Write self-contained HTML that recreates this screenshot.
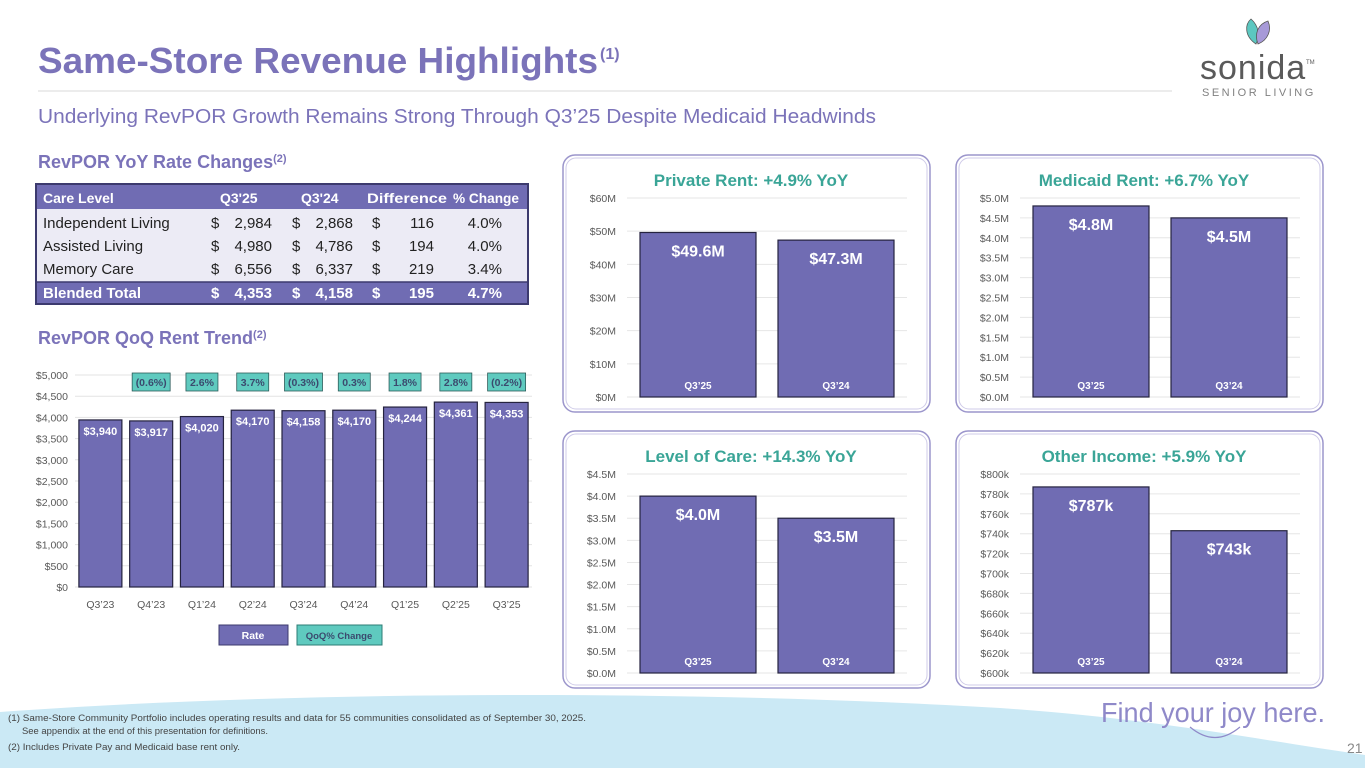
<!DOCTYPE html>
<html><head><meta charset="utf-8">
<style>
html,body{margin:0;padding:0;background:#fff;}
svg{display:block;font-family:"Liberation Sans",sans-serif;}
.ax{font-size:10.5px;fill:#595959;}
</style></head>
<body>
<svg id="page" width="1365" height="768" viewBox="0 0 1365 768" xmlns="http://www.w3.org/2000/svg">
  <path d="M0,712 C300,690 700,690 1000,708 C1150,718 1260,740 1365,755 L1365,768 L0,768 Z" fill="#cbe9f5"/>
  <text x="38" y="73" font-size="36" font-weight="bold" fill="#7b73b9"><tspan textLength="560" lengthAdjust="spacingAndGlyphs">Same-Store Revenue Highlights</tspan><tspan font-size="16" dy="-14" dx="2">(1)</tspan></text>
  <line x1="38" y1="91" x2="1172" y2="91" stroke="#d9d9d9" stroke-width="1"/>
  <text x="38" y="123" font-size="20" fill="#7b73b9" textLength="838" lengthAdjust="spacingAndGlyphs">Underlying RevPOR Growth Remains Strong Through Q3’25 Despite Medicaid Headwinds</text>

  <g>
    <path d="M1256,44 C1244,36 1245,24 1251,19 C1259,26 1260,36 1256,44 Z" fill="#5cc7c0" stroke="#555" stroke-width="0.8"/>
    <path d="M1258,44 C1254,34 1258,24 1268,21 C1272,30 1268,40 1258,44 Z" fill="#a79ad8" stroke="#555" stroke-width="0.8"/>
    <text x="1200" y="79" font-size="34" fill="#5a5a5a" letter-spacing="1">sonida</text>
    <text x="1306" y="64" font-size="6" fill="#5a5a5a">TM</text>
    <text x="1202" y="96" font-size="11" fill="#808080" letter-spacing="2.5">SENIOR LIVING</text>
  </g>

  <text x="38" y="168" font-size="18" font-weight="bold" fill="#7b73b9">RevPOR YoY Rate Changes<tspan font-size="11" dy="-6">(2)</tspan></text>

  <g>
    <rect x="36" y="184" width="492" height="120" fill="#ecebf5" stroke="#3c3a6e" stroke-width="2"/>
    <rect x="37" y="185" width="490" height="24" fill="#706cb3"/>
    <rect x="37" y="282" width="490" height="21" fill="#706cb3"/>
    <line x1="37" y1="282" x2="527" y2="282" stroke="#3c3a6e" stroke-width="1.5"/>
    <g font-size="14" font-weight="bold" fill="#fff">
      <text x="43" y="203">Care Level</text>
      <text x="220" y="203">Q3'25</text>
      <text x="301" y="203">Q3'24</text>
      <text x="367" y="203" textLength="80" lengthAdjust="spacingAndGlyphs">Difference</text>
      <text x="453" y="203" textLength="66" lengthAdjust="spacingAndGlyphs">% Change</text>
    </g>
    <g font-size="15" fill="#222">
      <text x="43" y="228">Independent Living</text>
      <text x="211" y="228">$</text><text x="272" y="228" text-anchor="end">2,984</text>
      <text x="292" y="228">$</text><text x="353" y="228" text-anchor="end">2,868</text>
      <text x="372" y="228">$</text><text x="434" y="228" text-anchor="end">116</text>
      <text x="502" y="228" text-anchor="end">4.0%</text>
      <text x="43" y="251">Assisted Living</text>
      <text x="211" y="251">$</text><text x="272" y="251" text-anchor="end">4,980</text>
      <text x="292" y="251">$</text><text x="353" y="251" text-anchor="end">4,786</text>
      <text x="372" y="251">$</text><text x="434" y="251" text-anchor="end">194</text>
      <text x="502" y="251" text-anchor="end">4.0%</text>
      <text x="43" y="274">Memory Care</text>
      <text x="211" y="274">$</text><text x="272" y="274" text-anchor="end">6,556</text>
      <text x="292" y="274">$</text><text x="353" y="274" text-anchor="end">6,337</text>
      <text x="372" y="274">$</text><text x="434" y="274" text-anchor="end">219</text>
      <text x="502" y="274" text-anchor="end">3.4%</text>
    </g>
    <g font-size="15" font-weight="bold" fill="#fff">
      <text x="43" y="298">Blended Total</text>
      <text x="211" y="298">$</text><text x="272" y="298" text-anchor="end">4,353</text>
      <text x="292" y="298">$</text><text x="353" y="298" text-anchor="end">4,158</text>
      <text x="372" y="298">$</text><text x="434" y="298" text-anchor="end">195</text>
      <text x="502" y="298" text-anchor="end">4.7%</text>
    </g>
  </g>

  <text x="38" y="344" font-size="18" font-weight="bold" fill="#7b73b9">RevPOR QoQ Rent Trend<tspan font-size="11" dy="-6">(2)</tspan></text>
  <g id="trend"></g>

  <g>
    <rect x="219" y="625" width="69" height="20" fill="#706cb3" stroke="#3c3a6e"/>
    <text x="253" y="639" font-size="10.5" font-weight="bold" fill="#fff" text-anchor="middle">Rate</text>
    <rect x="297" y="625" width="85" height="20" fill="#5fcabf" stroke="#2e7c75"/>
    <text x="339" y="639" font-size="9.5" font-weight="bold" fill="#3b4a6e" text-anchor="middle">QoQ% Change</text>
  </g>

  <g id="panels"></g>

  <g font-size="9" fill="#444">
    <text x="8" y="721" textLength="578" lengthAdjust="spacingAndGlyphs">(1) Same-Store Community Portfolio includes operating results and data for 55 communities consolidated as of September 30, 2025.</text>
    <text x="22" y="734" textLength="246" lengthAdjust="spacingAndGlyphs">See appendix at the end of this presentation for definitions.</text>
    <text x="8" y="750" textLength="232" lengthAdjust="spacingAndGlyphs">(2) Includes Private Pay and Medicaid base rent only.</text>
  </g>
  <text x="1101" y="722" font-size="28" fill="#8f89c9" textLength="224" lengthAdjust="spacingAndGlyphs">Find your joy here.</text>
  <path d="M1190,727 Q1215,748 1240,727" fill="none" stroke="#8f89c9" stroke-width="1.2"/>
  <text x="1347" y="753" font-size="14" fill="#888">21</text>
</svg>
<script>
const NS="http://www.w3.org/2000/svg";
const trendCats=["Q3'23","Q4'23","Q1'24","Q2'24","Q3'24","Q4'24","Q1'25","Q2'25","Q3'25"];
const trendVals=[3940,3917,4020,4170,4158,4170,4244,4361,4353];
const trendLabels=["$3,940","$3,917","$4,020","$4,170","$4,158","$4,170","$4,244","$4,361","$4,353"];
const qoqLabels=["","(0.6%)","2.6%","3.7%","(0.3%)","0.3%","1.8%","2.8%","(0.2%)"];
const trendTicks=[0,500,1000,1500,2000,2500,3000,3500,4000,4500,5000];
const trendTickLabels=["$0","$500","$1,000","$1,500","$2,000","$2,500","$3,000","$3,500","$4,000","$4,500","$5,000"];
const panelTitles=["Private Rent: +4.9% YoY","Medicaid Rent: +6.7% YoY","Level of Care: +14.3% YoY","Other Income: +5.9% YoY"];
const panelCats=["Q3’25","Q3’24"];
const privateVals=[49.6,47.3];
const medicaidVals=[4.8,4.5];
const careVals=[4.0,3.5];
const otherVals=[787,743];
const privateLabels=["$49.6M","$47.3M"];
const medicaidLabels=["$4.8M","$4.5M"];
const careLabels=["$4.0M","$3.5M"];
const otherLabels=["$787k","$743k"];
const privateTicks=[0,10,20,30,40,50,60];
const medicaidTicks=[0,0.5,1,1.5,2,2.5,3,3.5,4,4.5,5];
const careTicks=[0,0.5,1,1.5,2,2.5,3,3.5,4,4.5];
const otherTicks=[600,620,640,660,680,700,720,740,760,780,800];

function mk(tag,attrs,parent,text){const e=document.createElementNS(NS,tag);for(const k in attrs)e.setAttribute(k,attrs[k]);if(text!==undefined)e.textContent=text;parent.appendChild(e);return e;}

(function(){
  const g=document.getElementById('trend');
  const y0=587,y1=375,x0=75,x1=532;
  const yS=v=>y0-(v-trendTicks[0])/(trendTicks[trendTicks.length-1]-trendTicks[0])*(y0-y1);
  const step=(x1-x0)/trendCats.length;
  const xS=i=>x0+step*(i+0.5);
  trendTicks.forEach((t,i)=>{
    mk('line',{x1:x0,x2:x1,y1:yS(t),y2:yS(t),stroke:'#e3e3e3'},g);
    const tl=mk('text',{x:68,y:yS(t)+4,'text-anchor':'end',class:'ax'},g,trendTickLabels[i]);
    
    
  });
  trendVals.forEach((v,i)=>{
    const cx=xS(i),bw=43;
    const r=mk('rect',{x:cx-bw/2,y:yS(v),width:bw,height:y0-yS(v),fill:'#706cb3',stroke:'#25233f','stroke-width':1.2},g);
    
    
    const t=mk('text',{x:cx,y:yS(v)+15,'text-anchor':'middle','font-size':11,'font-weight':'bold',fill:'#fff'},g,trendLabels[i]);
    
    
    const c=mk('text',{x:cx,y:608,'text-anchor':'middle',class:'ax'},g,trendCats[i].replace("'","’"));
    
    
    if(qoqLabels[i]){
      const w=qoqLabels[i].length>4?38:32;
      const b=mk('rect',{x:cx-w/2,y:373,width:w,height:18,fill:'#5fcabf',stroke:'#2e5c5a','stroke-width':0.8},g);
      
      
      const bt=mk('text',{x:cx,y:386,'text-anchor':'middle','font-size':10.5,'font-weight':'bold',fill:'#3b4a6e'},g,qoqLabels[i]);
      
      
    }
  });
})();

function panel(px,py,title,vals,labels,ticks,fmt,name){
  const root=document.getElementById('panels');
  const g=mk('g',{},root);
  
  
  mk('rect',{x:px,y:py,width:367,height:257,rx:12,fill:'#fff',stroke:'#9c96cc','stroke-width':1.5},g);
  mk('rect',{x:px+3,y:py+3,width:361,height:251,rx:10,fill:'none',stroke:'#cfcbe8','stroke-width':1},g);
  const tt=mk('text',{x:px+188,y:py+31,'text-anchor':'middle','font-size':17,'font-weight':'bold',fill:'#3aa597'},g,title);
  
  
  const y1=py+43,y0=py+242,x0=px+64,x1=px+344;
  const lo=ticks[0],hi=ticks[ticks.length-1];
  const yS=v=>y0-(v-lo)/(hi-lo)*(y0-y1);
  ticks.forEach(t=>{
    mk('line',{x1:x0,x2:x1,y1:yS(t),y2:yS(t),stroke:'#e6e6e6'},g);
    const l=mk('text',{x:px+53,y:yS(t)+4,'text-anchor':'end',class:'ax'},g,fmt(t));
    
    
  });
  const centers=[px+135,px+273];
  vals.forEach((v,i)=>{
    const bw=116,cx=centers[i];
    const r=mk('rect',{x:cx-bw/2,y:yS(v),width:bw,height:y0-yS(v),fill:'#706cb3',stroke:'#25233f','stroke-width':1.2},g);
    
    
    const vl=mk('text',{x:cx,y:yS(v)+24,'text-anchor':'middle','font-size':16,'font-weight':'bold',fill:'#fff'},g,labels[i]);
    
    
    const cl=mk('text',{x:cx,y:y0-8,'text-anchor':'middle','font-size':10,'font-weight':'bold',fill:'#fff'},g,panelCats[i]);
    
    
  });
}
panel(563,155,panelTitles[0],privateVals,privateLabels,privateTicks,t=>'$'+t+'M','private-rent-panel');
panel(956,155,panelTitles[1],medicaidVals,medicaidLabels,medicaidTicks,t=>'$'+t.toFixed(1)+'M','medicaid-rent-panel');
panel(563,431,panelTitles[2],careVals,careLabels,careTicks,t=>'$'+t.toFixed(1)+'M','level-of-care-panel');
panel(956,431,panelTitles[3],otherVals,otherLabels,otherTicks,t=>'$'+t+'k','other-income-panel');
</script>
</body></html>
